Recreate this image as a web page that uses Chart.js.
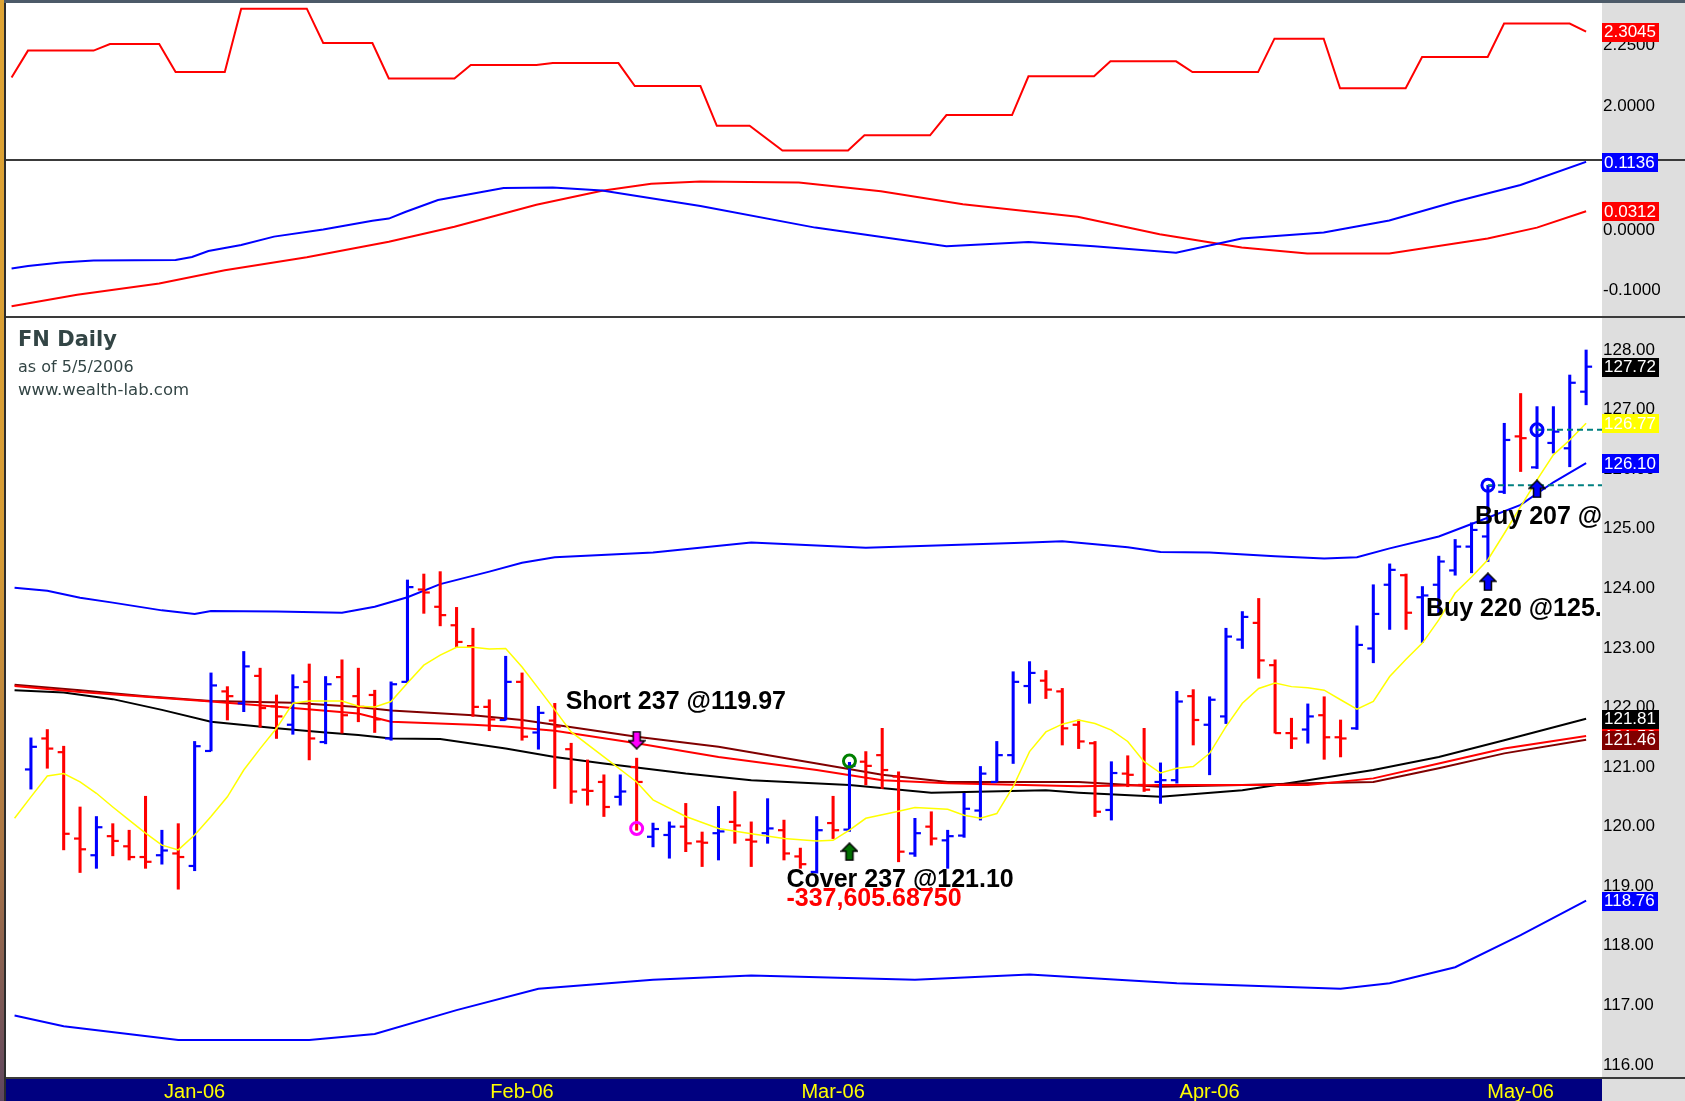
<!DOCTYPE html>
<html>
<head>
<meta charset="utf-8">
<title>FN Daily</title>
<script src="https://cdn.jsdelivr.net/npm/chart.js@4.4.1/dist/chart.umd.min.js"></script>
<style>
  body { margin: 0; width: 1685px; height: 1101px; position: relative; overflow: hidden; background: #ffffff; }
  .box { position: absolute; }
  canvas { position: absolute; left: 0; }
  #topline { left: 0; top: 0; width: 1685px; height: 3px; background: #4c5a68; }
  #axisbg { left: 1602px; top: 3px; width: 83px; height: 1098px; background: #dedede; }
  .sep { left: 0; width: 1685px; height: 2px; background: #3a3a3a; }
  #datebar { left: 0; top: 1079px; width: 1602px; height: 22px; background: #000080; }
  #edge { left: 0; top: 0; width: 4px; height: 1101px; background: linear-gradient(#dea434, #d69c36 50%, #a87446 78%, #5e4660); }
  #edgeline { left: 4px; top: 3px; width: 2px; height: 1098px; background: #2c2c2c; }
  .ttl { position: absolute; left: 18px; font-family: "DejaVu Sans", sans-serif; color: #334545; white-space: nowrap; }
  #t1 { top: 329px; font-size: 21px; line-height: 21px; font-weight: bold; }
  #t2 { top: 359px; font-size: 16px; line-height: 16px; }
  #t3 { top: 382px; font-size: 16.5px; line-height: 16px; }
</style>
</head>
<body>
<div id="topline" class="box"></div>
<div id="axisbg" class="box"></div>
<div class="box sep" style="top:159px"></div>
<div class="box sep" style="top:316px"></div>
<div class="box sep" style="top:1077px"></div>
<div id="datebar" class="box"></div>

<canvas id="rangeChart" width="1685" height="170" style="top:0px"></canvas>
<canvas id="oscChart" width="1685" height="170" style="top:150px"></canvas>
<canvas id="priceChart" width="1685" height="800" style="top:306px"></canvas>

<div id="edge" class="box"></div>
<div id="edgeline" class="box"></div>
<div id="t1" class="ttl">FN Daily</div>
<div id="t2" class="ttl">as of 5/5/2006</div>
<div id="t3" class="ttl">www.wealth-lab.com</div>

<script>
// bars are indexed 0..96 (15 Dec 2005 .. 5 May 2006), index 0 has no bar drawn
var monthTicks = [11, 31, 50, 73, 92];
var monthLabels = ['Jan-06', 'Feb-06', 'Mar-06', 'Apr-06', 'May-06'];

var opens = [null, 120.96, 121.48, 121.25, 119.80, 119.52, 119.84, 119.67, 119.49, 119.52,
  119.55, 119.34, 121.27, 122.27, 122.07, 122.53, 122.02, 121.71, 122.43, 121.42,
  122.51, 122.19, 122.21, 121.48, 122.43, 123.98, 123.69, 123.38, 123.03, 122.01,
  121.79, 122.43, 121.58, 121.78, 121.30, 120.62, 120.75, 120.50, 121.00, 119.83,
  119.86, 120.00, 119.75, 119.89, 120.08, 119.78, 119.89, 119.94, 119.50, 119.24,
  120.06, 119.95, 121.09, 121.20, 120.84, 119.55, 120.00, 119.77, 119.85, 120.27,
  120.75, 121.20, 122.36, 122.45, 122.27, 121.71, 121.40, 120.28, 120.89, 120.70,
  120.75, 120.78, 122.19, 121.71, 121.85, 123.14, 123.42, 122.71, 121.57, 121.63,
  121.87, 121.50, 121.65, 122.99, 124.06, 124.22, 123.85, 124.06, 124.30, 124.70,
  124.87, 125.62, 126.55, 126.03, 126.44, 126.35, 127.30];
var highs = [null, 121.49, 121.63, 121.35, 120.33, 120.17, 120.05, 119.94, 120.51, 119.94,
  120.05, 121.43, 122.58, 122.35, 122.94, 122.66, 122.21, 122.55, 122.73, 122.52,
  122.80, 122.66, 122.29, 122.43, 124.14, 124.24, 124.28, 123.68, 123.33, 122.13,
  122.86, 122.58, 122.02, 122.07, 121.40, 121.12, 120.87, 120.87, 121.15, 120.06,
  120.08, 120.39, 119.91, 120.34, 120.59, 120.08, 120.47, 120.11, 119.64, 120.17,
  120.51, 121.08, 121.26, 121.65, 120.92, 120.14, 120.25, 119.94, 120.56, 121.01,
  121.43, 122.60, 122.77, 122.62, 122.32, 121.79, 121.43, 121.09, 121.19, 121.65,
  121.07, 122.27, 122.30, 122.18, 123.33, 123.61, 123.83, 122.80, 121.82, 122.06,
  122.18, 121.79, 123.37, 124.06, 124.41, 124.24, 124.03, 124.54, 124.82, 125.10,
  125.73, 126.77, 127.27, 127.05, 127.05, 127.58, 128.00];
var lows = [null, 120.63, 120.98, 119.61, 119.23, 119.30, 119.51, 119.44, 119.30, 119.37,
  118.95, 119.26, 121.27, 121.79, 121.93, 121.67, 121.48, 121.55, 121.12, 121.39,
  121.57, 121.76, 121.58, 121.45, 122.43, 123.58, 123.37, 123.02, 121.85, 121.61,
  121.79, 121.45, 121.30, 120.64, 120.39, 120.36, 120.17, 120.36, 119.94, 119.66,
  119.47, 119.58, 119.33, 119.44, 119.72, 119.33, 119.72, 119.44, 119.30, 119.22,
  119.80, 119.92, 120.70, 120.64, 119.41, 119.50, 119.69, 119.30, 119.82, 120.11,
  120.75, 121.06, 122.07, 122.15, 121.37, 121.31, 120.17, 120.11, 120.67, 120.59,
  120.39, 120.73, 121.37, 120.87, 121.73, 122.99, 122.49, 121.57, 121.31, 121.40,
  121.13, 121.17, 121.63, 122.75, 123.31, 123.31, 123.09, 123.57, 124.22, 124.26,
  124.45, 125.59, 125.96, 126.01, 126.27, 126.04, 127.08];
var closes = [null, 121.34, 121.31, 119.88, 119.62, 119.99, 119.76, 119.49, 119.41, 119.60,
  119.49, 121.35, 122.37, 122.19, 122.69, 121.99, 121.85, 122.34, 121.48, 122.39,
  121.87, 122.01, 121.80, 122.39, 124.02, 123.93, 123.55, 123.10, 122.01, 121.80,
  122.43, 121.51, 121.91, 121.68, 120.59, 120.60, 120.33, 120.59, 120.75, 119.96,
  120.00, 119.72, 119.73, 119.92, 120.02, 119.75, 119.97, 119.55, 119.37, 119.94,
  119.94, 121.02, 121.02, 120.95, 119.58, 119.89, 119.80, 119.84, 120.30, 120.89,
  121.20, 122.43, 122.58, 122.30, 121.65, 121.43, 120.25, 120.90, 120.87, 120.62,
  120.78, 122.10, 121.79, 122.13, 123.19, 123.52, 122.79, 121.57, 121.48, 121.85,
  121.50, 121.48, 123.05, 123.57, 124.31, 123.59, 123.88, 124.45, 124.70, 124.98,
  125.72, 126.49, 126.52, 126.66, 126.63, 127.45, 127.72];

// short moving average (yellow)
var smaIdx = [0, 1, 2, 3, 4, 5, 6, 7, 8, 9, 10, 11, 12, 13, 14, 15, 16, 17, 18, 19,
  20, 21, 22, 23, 24, 25, 26, 27, 28, 29, 30, 31, 32, 33,
  34, 36, 38, 39, 41, 43, 45, 47, 49, 50, 51, 52, 54, 55, 57, 58, 59, 60, 61, 62, 63, 64,
  65, 66, 67, 68, 69, 70, 71, 72, 73, 74, 75, 76, 77, 78, 79, 80, 81, 82, 83, 84,
  85, 86, 87, 88, 89, 90, 91, 92, 93, 94, 95, 96];
var smaVals = [120.14, 120.50, 120.85, 120.89, 120.75, 120.56, 120.33, 120.11, 119.89, 119.69,
  119.61, 119.86, 120.17, 120.50, 120.95, 121.31, 121.65, 122.07, 122.11, 122.11,
  122.11, 122.02, 122.01, 122.10, 122.41, 122.71, 122.88, 123.01, 123.01, 122.98,
  122.99, 122.68, 122.32, 121.96,
  121.59, 121.17, 120.75, 120.45, 120.17, 119.97, 119.88, 119.80, 119.76, 119.77, 119.94,
  120.14, 120.26, 120.32, 120.29, 120.19, 120.14, 120.22, 120.67, 121.26, 121.59, 121.72,
  121.79, 121.73, 121.62, 121.43, 121.09, 120.90, 120.98, 121.01, 121.23, 121.68,
  122.07, 122.32, 122.41, 122.35, 122.33, 122.29, 122.13, 121.97, 122.10, 122.52,
  122.81, 123.08, 123.47, 123.92, 124.19, 124.48, 124.92, 125.37, 125.82, 126.24,
  126.49, 126.77];

// price channel
var upperIdx = [0, 2, 4, 6, 9, 11, 12, 16, 20, 22, 24, 26, 29, 31, 33, 39, 45, 52, 62, 64,
  68, 70, 73, 77, 80, 82, 84, 87, 89, 92, 94, 96];
var upperVals = [124.01, 123.96, 123.84, 123.76, 123.63, 123.57, 123.62, 123.61, 123.59, 123.69,
  123.85, 124.07, 124.28, 124.43, 124.52, 124.60, 124.77, 124.68, 124.77, 124.79,
  124.69, 124.61, 124.60, 124.54, 124.50, 124.52, 124.67, 124.87, 125.08, 125.40,
  125.78, 126.10];
var lowerIdx = [0, 3, 10, 18, 22, 27, 32, 39, 45, 55, 62, 71, 81, 84, 88, 92, 96];
var lowerVals = [116.83, 116.65, 116.42, 116.42, 116.52, 116.92, 117.28, 117.43, 117.50, 117.43,
  117.52, 117.37, 117.28, 117.37, 117.64, 118.18, 118.76];

// long moving averages
var blackIdx = [0, 3, 6, 9, 12, 16, 19, 21, 23, 26, 30, 33, 36, 41, 45, 51, 56, 63, 65, 70,
  75, 79, 83, 87, 91, 96];
var blackVals = [122.29, 122.25, 122.14, 121.96, 121.76, 121.65, 121.58, 121.54, 121.48, 121.47,
  121.31, 121.17, 121.06, 120.89, 120.78, 120.70, 120.57, 120.61, 120.57, 120.50,
  120.61, 120.78, 120.95, 121.17, 121.45, 121.81];
var redIdx = [0, 4, 8, 12, 17, 21, 23, 28, 30, 33, 38, 43, 49, 53, 57, 65, 70, 79, 83, 87, 91, 96];
var redVals = [122.36, 122.26, 122.18, 122.10, 121.99, 121.90, 121.76, 121.71, 121.68, 121.61,
  121.40, 121.17, 120.95, 120.78, 120.73, 120.68, 120.70, 120.70, 120.81, 121.06,
  121.31, 121.52];
var maroonIdx = [0, 4, 8, 12, 17, 21, 23, 28, 31, 33, 38, 43, 49, 53, 57, 65, 70, 75, 79, 83,
  87, 91, 96];
var maroonVals = [122.38, 122.29, 122.19, 122.11, 122.08, 122.01, 121.95, 121.87, 121.79, 121.71,
  121.51, 121.34, 121.06, 120.87, 120.75, 120.75, 120.67, 120.70, 120.73, 120.75,
  120.98, 121.23, 121.46];

// top pane (red step line)
var rangeIdx = [0, 1, 5, 6, 9, 10, 13, 14, 18, 19, 22, 23, 27, 28, 32, 33, 37, 38, 42, 43,
  45, 47, 51, 52, 56, 57, 61, 62, 66, 67, 71, 72, 76, 77, 80, 81, 85, 86, 90, 91, 95, 96];
var rangeVals = [2.117, 2.227, 2.227, 2.254, 2.254, 2.139, 2.139, 2.399, 2.399, 2.258,
  2.258, 2.113, 2.113, 2.168, 2.168, 2.176, 2.176, 2.082, 2.082, 1.919,
  1.919, 1.818, 1.818, 1.880, 1.880, 1.963, 1.963, 2.122, 2.122, 2.183,
  2.183, 2.139, 2.139, 2.276, 2.276, 2.073, 2.073, 2.201, 2.201, 2.338,
  2.338, 2.3045];

// middle pane
var fastIdx = [0, 1, 3, 5, 10, 11, 12, 14, 16, 19, 22, 23, 24, 26, 28, 30, 33, 36, 42, 49,
  57, 62, 66, 71, 75, 80, 84, 88, 92, 96];
var fastVals = [-0.064, -0.060, -0.054, -0.051, -0.050, -0.045, -0.035, -0.025, -0.011, 0.001,
  0.0155, 0.019, 0.030, 0.050, 0.060, 0.070, 0.071, 0.066, 0.040, 0.004,
  -0.027, -0.020, -0.027, -0.038, -0.014, -0.004, 0.016, 0.047, 0.075, 0.1136];
var slowIdx = [0, 4, 9, 13, 18, 23, 27, 32, 36, 39, 42, 48, 53, 58, 65, 70, 75, 79, 84, 90, 93, 96];
var slowVals = [-0.127, -0.108, -0.089, -0.067, -0.0455, -0.0195, 0.0055, 0.042, 0.0655, 0.077,
  0.081, 0.079, 0.0645, 0.043, 0.022, -0.007, -0.029, -0.039, -0.039, -0.014,
  0.004, 0.0312];

// trades
var shortBars = [38], shortPrices = [119.97];
var coverBars = [51], coverPrices = [121.10];
var buyBars = [90, 93], buyPrices = [125.73, 126.66];
var tradeText = ['Short 237 @119.97', 'Cover 237 @121.10', 'Buy 220 @125.72', 'Buy 207 @126.66'];
var coverProfit = '-337,605.68750';

var priceTicks = [116, 117, 118, 119, 120, 121, 122, 123, 124, 125, 126, 127, 128];
var rangeTicks = [2.0, 2.25];
var oscTicks = [0, -0.1];

var xMin = -0.34, xMax = 96.97;
var FONT = '"Liberation Sans", Arial, sans-serif';

function pairs(xs, ys) {
  var out = [];
  for (var k = 0; k < xs.length; k++) out.push({ x: xs[k], y: ys[k] });
  return out;
}
function last(a) { return a[a.length - 1]; }

function lineSet(data, color, width, order) {
  return { type: 'line', data: data, borderColor: color, borderWidth: width,
    pointRadius: 0, tension: 0, fill: false, order: order };
}

function xAxis(show) {
  return {
    type: 'linear', min: xMin, max: xMax, offset: false, display: show,
    grid: { display: false, drawTicks: false }, border: { display: false },
    afterBuildTicks: function (s) { s.ticks = monthTicks.map(function (v) { return { value: v }; }); },
    afterFit: function (s) { if (show) s.height = 24; s.paddingLeft = 0; s.paddingRight = 0; },
    ticks: { autoSkip: false, maxRotation: 0, padding: 3, color: '#ffff00',
      font: { family: FONT, size: 20 },
      callback: function (v) { var k = monthTicks.indexOf(v); return k < 0 ? '' : monthLabels[k]; } }
  };
}

function yAxis(min, max, ticks, digits) {
  return {
    position: 'right', min: min, max: max, beginAtZero: false,
    grid: { display: false, drawTicks: false }, border: { display: false },
    afterBuildTicks: function (s) { s.ticks = ticks.map(function (v) { return { value: v }; }); },
    afterFit: function (s) { s.width = 83; s.paddingTop = 0; s.paddingBottom = 0; },
    ticks: { padding: 1, color: '#000000', font: { family: FONT, size: 17 },
      callback: function (v) { return Number(v).toFixed(digits); } }
  };
}

// coloured last-value boxes on the right axis
function valueTags(tags, digits) {
  return {
    id: 'valueTags',
    afterDraw: function (chart) {
      var ctx = chart.ctx, ys = chart.scales.y, x0 = chart.chartArea.right;
      ctx.save();
      ctx.font = '17px ' + FONT;
      ctx.textBaseline = 'middle';
      tags.forEach(function (t) {
        var y = ys.getPixelForValue(t.value);
        var txt = t.value.toFixed(digits);
        var w = ctx.measureText(txt).width;
        ctx.fillStyle = t.bg;
        ctx.fillRect(x0, Math.round(y) - 9, Math.ceil(w) + 5, 19);
        ctx.fillStyle = '#ffffff';
        ctx.fillText(txt, x0 + 2, y + 1);
      });
      ctx.restore();
    }
  };
}

function arrowIcon(fill, down) {
  var c = document.createElement('canvas');
  c.width = 18; c.height = 19;
  var g = c.getContext('2d');
  if (down) { g.translate(0, 19); g.scale(1, -1); }
  g.beginPath();
  g.moveTo(9, 1); g.lineTo(17, 9); g.lineTo(12.5, 9); g.lineTo(12.5, 18);
  g.lineTo(5.5, 18); g.lineTo(5.5, 9); g.lineTo(1, 9); g.closePath();
  g.fillStyle = fill; g.fill();
  g.lineWidth = 1.5; g.strokeStyle = '#000000'; g.stroke();
  return c;
}

function markerSet(data, style, order) {
  return { type: 'scatter', data: data, pointStyle: style, pointRadius: 8, order: order };
}

function opts(yScale, showX) {
  return {
    responsive: false, maintainAspectRatio: false, animation: false, events: [],
    layout: { padding: { left: 6, right: 0, top: 12, bottom: 0 } },
    plugins: { legend: { display: false }, tooltip: { enabled: false } },
    scales: { x: xAxis(showX), y: yScale }
  };
}

// build a chart, then move/resize its canvas so the plot area sits exactly on the page band
function pinned(id, build, areaTop, areaBottom) {
  var c = document.getElementById(id);
  var ch = new Chart(c, build());
  var above = ch.chartArea.top, below = c.height - ch.chartArea.bottom;
  ch.destroy();
  c.width = 1685;
  c.height = Math.round(above + (areaBottom - areaTop) + below);
  c.style.top = (areaTop - above) + 'px';
  return new Chart(c, build());
}

// top pane
pinned('rangeChart', function () {
  return {
    type: 'line',
    data: { datasets: [lineSet(pairs(rangeIdx, rangeVals), '#ff0000', 2, 0)] },
    options: opts(yAxis(1.783, 2.418, rangeTicks, 4), false),
    plugins: [valueTags([{ value: last(rangeVals), bg: '#ff0000' }], 4)]
  };
}, 4, 159);

// middle pane
pinned('oscChart', function () {
  return {
    type: 'line',
    data: { datasets: [
      lineSet(pairs(fastIdx, fastVals), '#0000ff', 2, 0),
      lineSet(pairs(slowIdx, slowVals), '#ff0000', 2, 1)
    ] },
    options: opts(yAxis(-0.1433, 0.115, oscTicks, 4), false),
    plugins: [valueTags([
      { value: last(fastVals), bg: '#0000ff' },
      { value: last(slowVals), bg: '#ff0000' }
    ], 4)]
  };
}, 161, 316);

// price pane
var hl = [], opn = [], cls = [], barCol = [];
for (var i = 0; i < closes.length; i++) {
  if (closes[i] === null) continue;
  var col = closes[i] >= opens[i] ? '#0000ff' : '#ff0000';
  hl.push({ x: i, y: [lows[i], highs[i]] });
  opn.push({ x: i, y: opens[i] });
  cls.push({ x: i, y: closes[i] });
  barCol.push(col);
}

var shortArrowY = highs[shortBars[0]] + 0.30;
var coverArrowY = lows[coverBars[0]] - 0.34;
var upIcon = { green: arrowIcon('#007000', false), blue: arrowIcon('#0000ff', false) };
var downIcon = arrowIcon('#ff00ff', true);

var notesPlugin = {
  id: 'notes',
  afterDatasetsDraw: function (chart) {
    var ctx = chart.ctx, xs = chart.scales.x, ys = chart.scales.y, a = chart.chartArea;
    ctx.save();
    ctx.beginPath();
    ctx.rect(a.left, a.top, a.right - a.left, a.bottom - a.top);
    ctx.clip();
    ctx.font = 'bold 25px ' + FONT;
    ctx.textBaseline = 'middle';
    function put(txt, bar, price, dx, dy, color) {
      ctx.fillStyle = color;
      ctx.fillText(txt, xs.getPixelForValue(bar) + dx, ys.getPixelForValue(price) + dy);
    }
    put(tradeText[0], shortBars[0], shortArrowY, -71, -38, '#000000');
    put(tradeText[1], coverBars[0], coverArrowY, -63, 28, '#000000');
    put(coverProfit, coverBars[0], coverArrowY, -63, 47, '#ff0000');
    put(tradeText[2], buyBars[0], lows[buyBars[0]] - 0.34, -62, 27, '#000000');
    put(tradeText[3], buyBars[1], lows[buyBars[1]] - 0.34, -62, 28, '#000000');
    ctx.restore();
  }
};

pinned('priceChart', function () {
  var stopLines = buyBars.map(function (b, k) {
    return { type: 'line', data: [{ x: b, y: buyPrices[k] }, { x: xMax, y: buyPrices[k] }],
      borderColor: '#008080', borderWidth: 2, borderDash: [6, 4], pointRadius: 0, order: 2 };
  });
  return {
    type: 'line',
    data: { datasets: [
      markerSet([{ x: shortBars[0], y: shortArrowY }], downIcon, 0),
      markerSet([{ x: coverBars[0], y: coverArrowY }], upIcon.green, 0),
      markerSet(buyBars.map(function (b) { return { x: b, y: lows[b] - 0.34 }; }), upIcon.blue, 0),
      { type: 'scatter', order: 1, pointStyle: 'circle', pointRadius: 6, pointBorderWidth: 3,
        pointBackgroundColor: 'rgba(0,0,0,0)',
        pointBorderColor: ['#ff00ff', '#008000', '#0000ff', '#0000ff'],
        data: [{ x: shortBars[0], y: shortPrices[0] }, { x: coverBars[0], y: coverPrices[0] },
          { x: buyBars[0], y: buyPrices[0] }, { x: buyBars[1], y: buyPrices[1] }] },
      stopLines[0], stopLines[1],
      lineSet(pairs(smaIdx, smaVals), '#ffff00', 1.5, 3),
      { type: 'scatter', data: opn, pointStyle: 'dash', pointRotation: 180, pointRadius: 6,
        pointBorderWidth: 2.2, pointBorderColor: barCol, order: 4 },
      { type: 'scatter', data: cls, pointStyle: 'dash', pointRotation: 0, pointRadius: 6,
        pointBorderWidth: 2.2, pointBorderColor: barCol, order: 4 },
      { type: 'bar', data: hl, backgroundColor: barCol, barThickness: 2.4, borderWidth: 0, grouped: false, order: 5 },
      lineSet(pairs(redIdx, redVals), '#ff0000', 2, 6),
      lineSet(pairs(maroonIdx, maroonVals), '#800000', 2, 7),
      lineSet(pairs(blackIdx, blackVals), '#000000', 2, 8),
      lineSet(pairs(upperIdx, upperVals), '#0000ff', 2, 9),
      lineSet(pairs(lowerIdx, lowerVals), '#0000ff', 2, 9)
    ] },
    options: opts(yAxis(115.798, 128.537, priceTicks, 2), true),
    plugins: [notesPlugin, valueTags([
      { value: last(closes), bg: '#000000' },
      { value: last(smaVals), bg: '#ffff00' },
      { value: last(upperVals), bg: '#0000ff' },
      { value: last(redVals), bg: '#ff0000' },
      { value: last(maroonVals), bg: '#800000' },
      { value: last(blackVals), bg: '#000000' },
      { value: last(lowerVals), bg: '#0000ff' }
    ], 2)]
  };
}, 318, 1077);
</script>
</body>
</html>
